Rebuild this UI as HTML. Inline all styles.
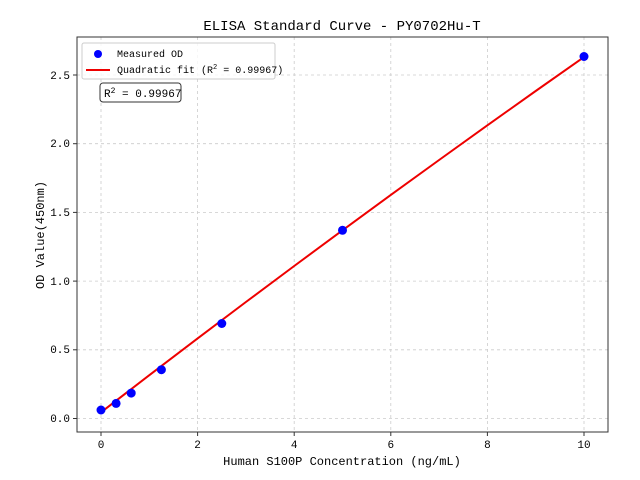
<!DOCTYPE html><html><head><style>body{margin:0;background:#fff}svg{display:block}text{font-family:"WenQuanYi Zen Hei","Liberation Mono",monospace;fill:#000}</style></head><body>
<svg width="640" height="480" xmlns="http://www.w3.org/2000/svg">
<g stroke="#ccc" stroke-dasharray="3,3" stroke-width="0.8">
<line x1="101" y1="37" x2="101" y2="432"/><line x1="197.6" y1="37" x2="197.6" y2="432"/><line x1="294.2" y1="37" x2="294.2" y2="432"/><line x1="390.8" y1="37" x2="390.8" y2="432"/><line x1="487.4" y1="37" x2="487.4" y2="432"/><line x1="584" y1="37" x2="584" y2="432"/>
<line x1="77" y1="418.5" x2="608" y2="418.5"/><line x1="77" y1="349.8" x2="608" y2="349.8"/><line x1="77" y1="281.1" x2="608" y2="281.1"/><line x1="77" y1="212.4" x2="608" y2="212.4"/><line x1="77" y1="143.7" x2="608" y2="143.7"/><line x1="77" y1="75" x2="608" y2="75"/>
</g>
<polyline fill="none" stroke="#e00" stroke-width="2" points="101,412.3 149.3,375.2 197.6,338.4 245.9,302 294.2,266 342.5,230.3 390.8,194.9 439.1,160 487.4,125.3 535.7,91 584,57.1"/>
<g fill="#00f">
<circle cx="101" cy="410" r="4.5"/><circle cx="116.1" cy="403.4" r="4.5"/><circle cx="131.2" cy="393.1" r="4.5"/><circle cx="161.4" cy="369.7" r="4.5"/><circle cx="221.8" cy="323.5" r="4.5"/><circle cx="342.5" cy="230.3" r="4.5"/><circle cx="584" cy="56.5" r="4.5"/>
</g>
<rect x="77" y="37" width="531" height="395" fill="none" stroke="#333" stroke-width="1"/>
<g stroke="#333"><line x1="101" y1="432" x2="101" y2="436"/><line x1="197.6" y1="432" x2="197.6" y2="436"/><line x1="294.2" y1="432" x2="294.2" y2="436"/><line x1="390.8" y1="432" x2="390.8" y2="436"/><line x1="487.4" y1="432" x2="487.4" y2="436"/><line x1="584" y1="432" x2="584" y2="436"/>
<line x1="73" y1="418.5" x2="77" y2="418.5"/><line x1="73" y1="349.8" x2="77" y2="349.8"/><line x1="73" y1="281.1" x2="77" y2="281.1"/><line x1="73" y1="212.4" x2="77" y2="212.4"/><line x1="73" y1="143.7" x2="77" y2="143.7"/><line x1="73" y1="75" x2="77" y2="75"/></g>
<g font-size="11" text-anchor="middle"><text x="101" y="448">0</text><text x="197.6" y="448">2</text><text x="294.2" y="448">4</text><text x="390.8" y="448">6</text><text x="487.4" y="448">8</text><text x="584" y="448">10</text></g>
<g font-size="11" text-anchor="end"><text x="70" y="422">0.0</text><text x="70" y="353">0.5</text><text x="70" y="285">1.0</text><text x="70" y="216">1.5</text><text x="70" y="147">2.0</text><text x="70" y="79">2.5</text></g>
<text x="342" y="465" font-size="12" text-anchor="middle">Human S100P Concentration (ng/mL)</text>
<text x="0" y="0" font-size="12" text-anchor="middle" transform="translate(44,235) rotate(-90)">OD Value(450nm)</text>
<text x="342" y="30" font-size="14" text-anchor="middle">ELISA Standard Curve - PY0702Hu-T</text>
<rect x="82" y="43" width="193" height="36" fill="#fff" fill-opacity="0.8" stroke="#ccc" rx="2"/>
<circle cx="98" cy="54" r="4" fill="#00f"/><text x="117" y="57" font-size="10">Measured OD</text>
<line x1="86" y1="70" x2="110" y2="70" stroke="#e00" stroke-width="2"/><text x="117" y="73" font-size="10">Quadratic fit (R<tspan dy="-4" font-size="7">2</tspan><tspan dy="4"> = 0.99967)</tspan></text>
<rect x="100" y="83" width="81" height="19" fill="#fff" stroke="#333" rx="3"/>
<text x="104" y="97" font-size="11">R<tspan dy="-4" font-size="8">2</tspan><tspan dy="4"> = 0.99967</tspan></text>
</svg></body></html>
